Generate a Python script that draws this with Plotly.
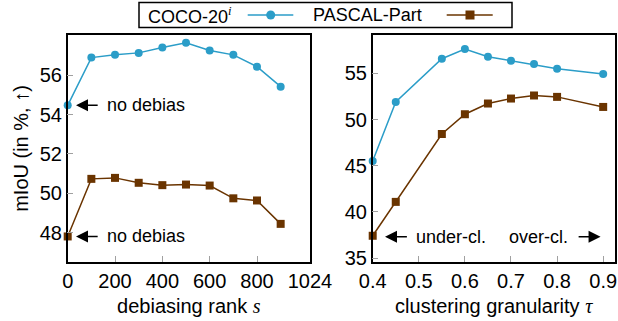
import plotly.graph_objects as go

# ---------------- data ----------------
rank_s = [0, 100, 200, 300, 400, 500, 600, 700, 800, 900]
coco_rank = [54.47, 56.90, 57.04, 57.14, 57.41, 57.65, 57.26, 57.04, 56.44, 55.42]
pascal_rank = [47.80, 50.73, 50.78, 50.53, 50.41, 50.44, 50.39, 49.74, 49.63, 48.44]

tau = [0.40, 0.45, 0.55, 0.60, 0.65, 0.70, 0.75, 0.80, 0.90]
coco_tau = [45.50, 51.90, 56.58, 57.63, 56.80, 56.36, 56.00, 55.50, 54.92]
pascal_tau = [37.41, 41.08, 48.43, 50.57, 51.73, 52.27, 52.60, 52.45, 51.36]

rank_ticks = [0, 200, 400, 600, 800, 1024]
rank_left_ticks = [48, 50, 52, 54, 56]
tau_ticks = [0.4, 0.5, 0.6, 0.7, 0.8, 0.9]
tau_y_ticks = [35, 40, 45, 50, 55]

SERIF = "Liberation Serif"
MATH = '<span style="font-family:%s"><i>%s</i></span>'
names = ["COCO-20<sup>" + MATH % (SERIF, "i") + "</sup>", "PASCAL-Part"]

# ---------------- style ----------------
W, H = 618, 321
BLUE = "#2b9dc8"
BROWN = "#6a3400"
FONT = "Liberation Sans"


def px(x):
    return x / W


def py(y):
    return 1 - y / H


fig = go.Figure()

line_kw = dict(width=1.5)
fig.add_trace(go.Scatter(x=rank_s, y=coco_rank, mode="lines+markers", xaxis="x", yaxis="y",
                         line=dict(color=BLUE, **line_kw),
                         marker=dict(symbol="circle", size=8, color=BLUE),
                         cliponaxis=False, showlegend=False))
fig.add_trace(go.Scatter(x=rank_s, y=pascal_rank, mode="lines+markers", xaxis="x", yaxis="y",
                         line=dict(color=BROWN, **line_kw),
                         marker=dict(symbol="square", size=8, color=BROWN),
                         cliponaxis=False, showlegend=False))
fig.add_trace(go.Scatter(x=tau, y=coco_tau, mode="lines+markers", xaxis="x2", yaxis="y2",
                         line=dict(color=BLUE, **line_kw),
                         marker=dict(symbol="circle", size=8, color=BLUE),
                         cliponaxis=False, showlegend=False))
fig.add_trace(go.Scatter(x=tau, y=pascal_tau, mode="lines+markers", xaxis="x2", yaxis="y2",
                         line=dict(color=BROWN, **line_kw),
                         marker=dict(symbol="square", size=8, color=BROWN),
                         cliponaxis=False, showlegend=False))

# legend samples on a small hidden axis (pixel-like coords inside the legend box)
LX0, LX1, LY0, LY1 = 139, 512, 2.5, 27.5
fig.add_trace(go.Scatter(x=[247.7 - LX0, 293.3 - LX0], y=[0, 0], mode="lines", xaxis="x3", yaxis="y3",
                         line=dict(color=BLUE, width=1.5), showlegend=False, hoverinfo="skip"))
fig.add_trace(go.Scatter(x=[270.7 - LX0], y=[0], mode="markers", xaxis="x3", yaxis="y3",
                         marker=dict(symbol="circle", size=9, color=BLUE), showlegend=False, hoverinfo="skip"))
fig.add_trace(go.Scatter(x=[446.7 - LX0, 492.7 - LX0], y=[0, 0], mode="lines", xaxis="x3", yaxis="y3",
                         line=dict(color=BROWN, width=1.5), showlegend=False, hoverinfo="skip"))
fig.add_trace(go.Scatter(x=[470 - LX0], y=[0], mode="markers", xaxis="x3", yaxis="y3",
                         marker=dict(symbol="square", size=9, color=BROWN), showlegend=False, hoverinfo="skip"))

axis_common = dict(
    showline=True, linecolor="black", linewidth=1.5, mirror=True,
    showgrid=False, zeroline=False, automargin=False,
    ticks="inside", ticklen=6, tickcolor="#a0a0a0", tickwidth=1,
    tickfont=dict(family=FONT, size=20, color="black"),
)

fig.update_layout(
    width=W, height=H,
    margin=dict(l=0, r=0, t=0, b=0),
    paper_bgcolor="white", plot_bgcolor="rgba(0,0,0,0)",
    font=dict(family=FONT, color="black"),
    showlegend=False,
    xaxis=dict(domain=[px(67.7), px(310)], range=[0, 1024], tickvals=rank_ticks,
               title=dict(text="debiasing rank " + MATH % (SERIF, "s"),
                          font=dict(family=FONT, size=20), standoff=8),
               anchor="y", **axis_common),
    yaxis=dict(domain=[py(262), py(35)], range=[46.5, 58.05], tickvals=rank_left_ticks,
               title=dict(text="mIoU (in %, ↑)", font=dict(family=FONT, size=20), standoff=6),
               anchor="x", **axis_common),
    xaxis2=dict(domain=[px(372.7), px(614.7)], range=[0.4, 0.925], tickvals=tau_ticks,
                ticktext=[f"{v:.1f}" for v in tau_ticks],
                title=dict(text="clustering granularity " + MATH % (SERIF, "τ"),
                           font=dict(family=FONT, size=20), standoff=8),
                anchor="y2", **axis_common),
    yaxis2=dict(domain=[py(262), py(35)], range=[34.57, 59.15], tickvals=tau_y_ticks,
                anchor="x2", **axis_common),
    xaxis3=dict(domain=[px(LX0), px(LX1)], range=[0, LX1 - LX0], visible=False, anchor="y3",
                fixedrange=True, automargin=False),
    yaxis3=dict(domain=[py(LY1), py(LY0)], range=[-1, 1], visible=False, anchor="x3",
                fixedrange=True, automargin=False),
)

# legend box and texts
fig.add_shape(type="rect", xref="paper", yref="paper",
              x0=px(LX0), x1=px(LX1), y0=py(LY1), y1=py(LY0),
              line=dict(color="black", width=1.5), fillcolor="rgba(0,0,0,0)")
fig.add_annotation(xref="paper", yref="paper", x=px(146), y=py(15), xanchor="left", yanchor="middle",
                   text=names[0], showarrow=False, font=dict(family=FONT, size=18, color="black"))
fig.add_annotation(xref="paper", yref="paper", x=px(310.5), y=py(15), xanchor="left", yanchor="middle",
                   text=names[1], showarrow=False, font=dict(family=FONT, size=18, color="black"))

# arrows + texts
arrow_kw = dict(text="", showarrow=True, arrowhead=2, arrowsize=1.6, arrowwidth=1.5,
                arrowcolor="black", standoff=0, startstandoff=0)
txt_font = dict(family=FONT, size=18, color="black")

for yv in (coco_rank[0], pascal_rank[0]):
    fig.add_annotation(xref="x", yref="y", axref="x", ayref="y", x=35, y=yv, ax=133, ay=yv, **arrow_kw)
    fig.add_annotation(xref="x", yref="y", x=157, y=yv, xanchor="left", yanchor="middle",
                       text="no debias", showarrow=False, font=txt_font)

ya = 37.3
fig.add_annotation(xref="x2", yref="y2", axref="x2", ayref="y2", x=0.4267, y=ya, ax=0.4774, ay=ya, **arrow_kw)
fig.add_annotation(xref="x2", yref="y2", x=0.49, y=ya, xanchor="left", yanchor="middle",
                   text="under-cl.", showarrow=False, font=txt_font)
fig.add_annotation(xref="x2", yref="y2", x=0.829, y=ya, xanchor="right", yanchor="middle",
                   text="over-cl.", showarrow=False, font=txt_font)
fig.add_annotation(xref="x2", yref="y2", axref="x2", ayref="y2", x=0.8943, y=ya, ax=0.8435, ay=ya, **arrow_kw)

fig.write_html("out.html", config={"displayModeBar": False},
               post_script="document.body.style.margin='0';document.body.style.padding='0';")
